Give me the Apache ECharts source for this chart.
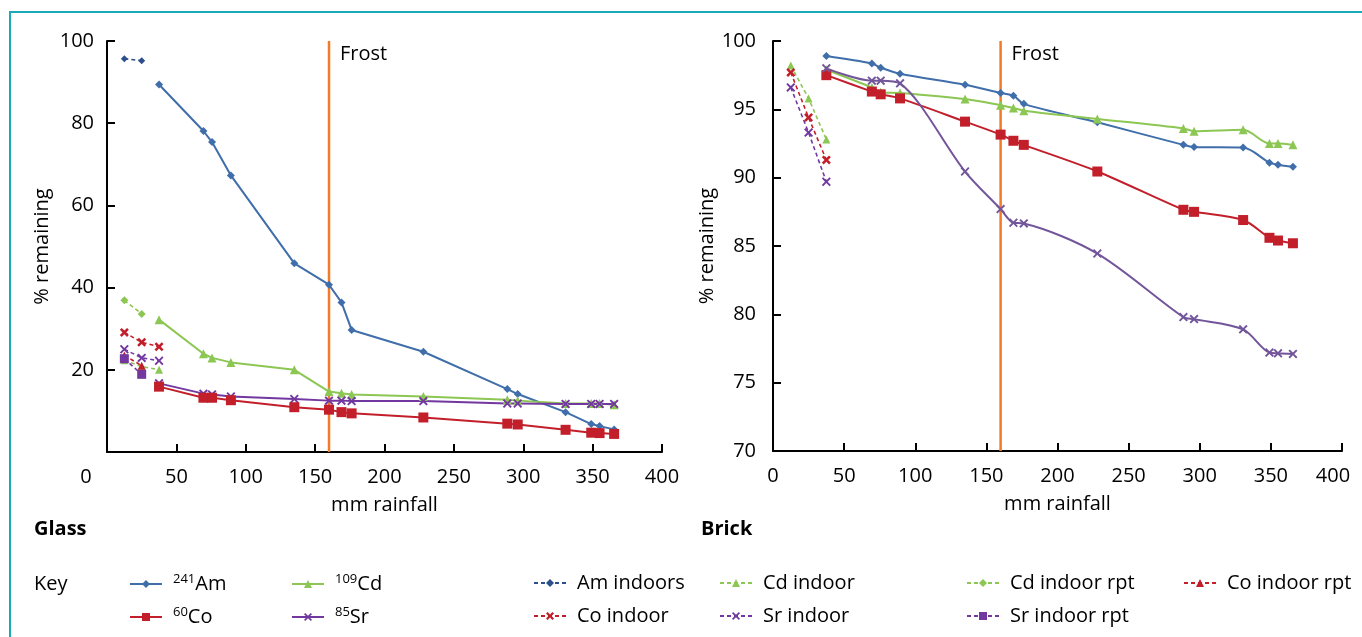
<!DOCTYPE html>
<html>
<head>
<meta charset="utf-8">
<script src="https://cdn.jsdelivr.net/npm/echarts@6/dist/echarts.min.js"></script>
<style>
  html, body { margin: 0; padding: 0; background: #fff; }
  #chart { width: 1362px; height: 637px; }
</style>
</head>
<body>
<div id="chart"></div>
<script>
// rainfall (mm) at each sampling
var xIndoor = [12.5, 25, 37.5];
var xOutdoor = [37.5, 69.5, 75.7, 89.3, 135, 160, 169, 176.3, 228, 288.5, 296, 330.5, 349, 355, 365.5];
var frostX = 160;

// Glass, % remaining
var glassAm = [89.4, 78.1, 75.4, 67.3, 45.9, 40.7, 36.4, 29.7, 24.4, 15.3, 14.1, 9.7, 6.8, 6.3, 5.5];
var glassCd = [32.2, 23.9, 22.9, 21.8, 20.0, 14.7, 14.3, 14.0, 13.5, 12.7, 12.5, 11.8, 11.8, 11.8, 11.5];
var glassCo = [15.9, 13.2, 13.2, 12.6, 10.9, 10.3, 9.7, 9.4, 8.4, 6.9, 6.7, 5.4, 4.7, 4.6, 4.4];
var glassSr = [16.7, 14.2, 14.0, 13.5, 12.9, 12.5, 12.5, 12.4, 12.4, 11.8, 11.8, 11.7, 11.7, 11.7, 11.7];
var glassAmIn = [95.7, 95.2];
var glassCdIn = [22.3, 20.8, 20.0];
var glassCdInRpt = [36.9, 33.6];
var glassCoIn = [29.1, 26.7, 25.6];
var glassCoInRpt = [23.5, 21.0];
var glassSrIn = [25.0, 22.9, 22.2];
var glassSrInRpt = [22.7, 18.9];

// Brick, % remaining
var brickAm = [98.9, 98.35, 98.05, 97.6, 96.8, 96.2, 96.0, 95.4, 94.05, 92.4, 92.25, 92.2, 91.1, 90.95, 90.8];
var brickCd = [97.9, 96.6, 96.25, 96.2, 95.75, 95.3, 95.1, 94.9, 94.3, 93.6, 93.4, 93.5, 92.5, 92.5, 92.4];
var brickCo = [97.5, 96.3, 96.1, 95.8, 94.1, 93.15, 92.7, 92.4, 90.45, 87.65, 87.5, 86.9, 85.6, 85.4, 85.2];
var brickSr = [98.0, 97.1, 97.1, 96.9, 90.45, 87.7, 86.7, 86.65, 84.45, 79.8, 79.65, 78.9, 77.2, 77.15, 77.1];
var brickCdIn = [98.2, 95.8, 92.8];
var brickCoIn = [97.7, 94.4, 91.3];
var brickSrIn = [96.6, 93.3, 89.7];

// axis ranges
var glassY = [0, 100, 20];
var brickY = [70, 100, 5];
var rainX = [0, 400, 50];

var FONT = "'Open Sans', 'Noto Sans', sans-serif";
var FS = 20;
var C_AM = '#3F6EAA', C_AM_IN = '#2C4F8C', C_CD = '#8CC653', C_CO = '#C21F2B',
    C_SR = '#7238A0', C_SR_B = '#72559A', C_FROST = '#F37A26';

var crossPath = 'path://M0,1.5L1.5,0L5,3.5L8.5,0L10,1.5L6.5,5L10,8.5L8.5,10L5,6.5L1.5,10L0,8.5L3.5,5Z';
var starPath = 'path://M0,2L2,0L5,3L8,0L10,2L7,5L10,8L8,10L5,7L2,10L0,8L3,5Z';

function pts(xs, ys) {
  return ys.map(function (y, i) { return [xs[i], y]; });
}

function mkLine(name, g, data, color, sym, size, dashed, smooth) {
  return {
    name: name, type: 'line', xAxisIndex: g, yAxisIndex: g,
    data: data, symbol: sym, symbolSize: size, smooth: smooth || false,
    lineStyle: { color: color, width: dashed ? 1.6 : 2, type: dashed ? [4, 3] : 'solid' },
    itemStyle: { color: color },
    z: 3
  };
}

function frost(g, yr) {
  return {
    name: 'Frost', type: 'line', xAxisIndex: g, yAxisIndex: g, silent: true,
    data: [[frostX, yr[0]], [frostX, yr[1]]], symbol: 'none',
    lineStyle: { color: C_FROST, width: 2.5 },
    endLabel: { show: true, formatter: 'Frost', fontSize: FS, color: '#000', fontFamily: FONT, offset: [3, 13] },
    z: 2
  };
}

function xAx(g, left) {
  return {
    type: 'value', gridIndex: g, min: rainX[0], max: rainX[1], interval: rainX[2],
    name: 'mm rainfall', nameLocation: 'middle', nameGap: 43,
    nameTextStyle: { fontSize: FS, color: '#000', fontFamily: FONT },
    axisLine: { show: true, onZero: false, lineStyle: { color: '#000', width: 2 } },
    axisTick: { show: true, inside: true, length: 8, lineStyle: { color: '#000', width: 2 } },
    splitLine: { show: false },
    axisLabel: {
      fontSize: FS, color: '#000', fontFamily: FONT, margin: 15,
      formatter: function (v) {
        if (left && v === rainX[0]) return '{z|' + v + '}';
        if (!left && v === rainX[1]) return '{e|' + v + '}';
        return String(v);
      },
      rich: {
        z: { fontSize: FS, color: '#000', fontFamily: FONT, padding: [0, 42, 0, 0] },
        e: { fontSize: FS, color: '#000', fontFamily: FONT, padding: [0, 18, 0, 0] }
      }
    }
  };
}

function yAx(g, yr, showMin, margin) {
  return {
    type: 'value', gridIndex: g, min: yr[0], max: yr[1], interval: yr[2],
    name: '% remaining', nameLocation: 'middle', nameGap: 55,
    nameTextStyle: { fontSize: FS, color: '#000', fontFamily: FONT },
    axisLine: { show: true, onZero: false, lineStyle: { color: '#000', width: 2 } },
    axisTick: { show: true, inside: true, length: 8, lineStyle: { color: '#000', width: 2 } },
    splitLine: { show: false },
    axisLabel: { fontSize: FS, color: '#000', fontFamily: FONT, margin: margin, showMinLabel: showMin }
  };
}

function supName(name) {
  var m = name.match(/^(\d+)(.*)$/);
  return m ? '{s|' + m[1] + '}{n|' + m[2] + '}' : '{n|' + name + '}';
}

// one legend per key entry so rows line up exactly
function legendItem(name, left, top) {
  return {
    data: [name], left: left, top: top,
    itemWidth: 32, itemHeight: 10, padding: 0, selectedMode: false,
    formatter: supName,
    textStyle: {
      color: '#000', fontFamily: FONT, fontSize: FS, padding: [0, 0, 0, 6],
      rich: {
        s: { fontSize: 13, lineHeight: 12, verticalAlign: 'top', color: '#000', fontFamily: FONT },
        n: { fontSize: FS, lineHeight: 22, color: '#000', fontFamily: FONT }
      }
    }
  };
}

var ROW1 = 573, ROW2 = 606;

var chart = echarts.init(document.getElementById('chart'), null, { renderer: 'canvas' });

var option = {
  animation: false,
  backgroundColor: '#fff',
  textStyle: { fontFamily: FONT },
  title: [
    { text: 'Glass', left: 34, top: 519, padding: 0, textStyle: { fontSize: FS, fontWeight: 'bold', color: '#000', fontFamily: FONT } },
    { text: 'Brick', left: 701, top: 519, padding: 0, textStyle: { fontSize: FS, fontWeight: 'bold', color: '#000', fontFamily: FONT } },
    { text: 'Key', left: 34, top: 574, padding: 0, textStyle: { fontSize: FS, fontWeight: 'normal', color: '#000', fontFamily: FONT } }
  ],
  graphic: [{
    type: 'polyline', silent: true,
    shape: { points: [[10, 637], [10, 12], [1362, 12]] },
    style: { stroke: '#1AAAB6', lineWidth: 2, fill: null }
  }],
  legend: [
    legendItem('241Am', 129, ROW1),
    legendItem('60Co', 129, ROW2),
    legendItem('109Cd', 291, ROW1),
    legendItem('85Sr', 291, ROW2),
    legendItem('Am indoors', 533, ROW1),
    legendItem('Co indoor', 533, ROW2),
    legendItem('Cd indoor', 719, ROW1),
    legendItem('Sr indoor', 719, ROW2),
    legendItem('Cd indoor rpt', 966, ROW1),
    legendItem('Sr indoor rpt', 966, ROW2),
    legendItem('Co indoor rpt', 1183, ROW1)
  ],
  grid: [
    { left: 107, top: 41, width: 555, height: 411 },
    { left: 773, top: 41, width: 569, height: 410 }
  ],
  xAxis: [xAx(0, true), xAx(1, false)],
  yAxis: [yAx(0, glassY, false, 13), yAx(1, brickY, true, 17)],
  series: [
    frost(0, glassY),
    mkLine('241Am', 0, pts(xOutdoor, glassAm), C_AM, 'diamond', 8),
    mkLine('109Cd', 0, pts(xOutdoor, glassCd), C_CD, 'triangle', 9),
    mkLine('85Sr', 0, pts(xOutdoor, glassSr), C_SR, crossPath, 9),
    mkLine('60Co', 0, pts(xOutdoor, glassCo), C_CO, 'rect', 10),
    mkLine('Am indoors', 0, pts(xIndoor, glassAmIn), C_AM_IN, 'diamond', 7, true),
    mkLine('Cd indoor', 0, pts(xIndoor, glassCdIn), C_CD, 'triangle', 8, true),
    mkLine('Cd indoor rpt', 0, pts(xIndoor, glassCdInRpt), C_CD, 'diamond', 8, true),
    mkLine('Co indoor', 0, pts(xIndoor, glassCoIn), C_CO, starPath, 9, true),
    mkLine('Co indoor rpt', 0, pts(xIndoor, glassCoInRpt), C_CO, 'triangle', 8, true),
    mkLine('Sr indoor', 0, pts(xIndoor, glassSrIn), C_SR, crossPath, 9, true),
    mkLine('Sr indoor rpt', 0, pts(xIndoor, glassSrInRpt), C_SR, 'rect', 9, true),

    frost(1, brickY),
    mkLine('241Am', 1, pts(xOutdoor, brickAm), C_AM, 'diamond', 8, false, 0.3),
    mkLine('109Cd', 1, pts(xOutdoor, brickCd), C_CD, 'triangle', 9, false, 0.3),
    mkLine('60Co', 1, pts(xOutdoor, brickCo), C_CO, 'rect', 10, false, 0.3),
    mkLine('85Sr', 1, pts(xOutdoor, brickSr), C_SR_B, crossPath, 9, false, 0.3),
    mkLine('Cd indoor', 1, pts(xIndoor, brickCdIn), C_CD, 'triangle', 8, true),
    mkLine('Co indoor', 1, pts(xIndoor, brickCoIn), C_CO, starPath, 9, true),
    mkLine('Sr indoor', 1, pts(xIndoor, brickSrIn), C_SR, crossPath, 9, true)
  ]
};

chart.setOption(option);
</script>
</body>
</html>
